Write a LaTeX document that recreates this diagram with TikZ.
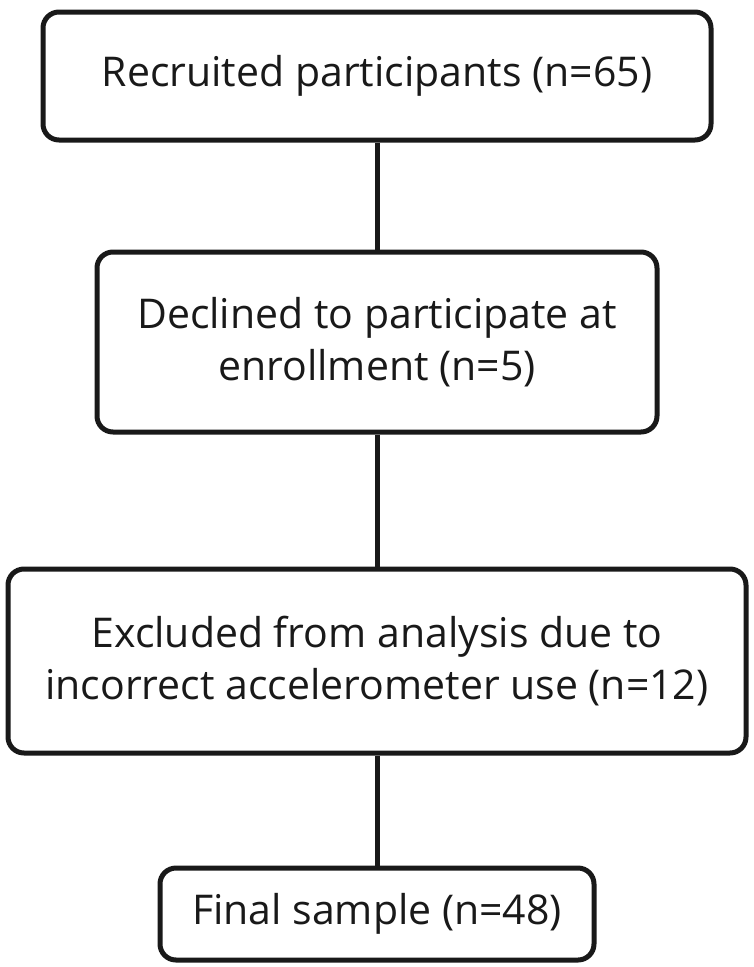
\documentclass[tikz,border=0pt]{standalone}
\usepackage{fontspec}
\setmainfont{Open Sans}
\begin{document}
\begin{tikzpicture}[x=1pt,y=-1pt,
  flowbox/.style={draw=black!90, line width=5pt, rounded corners=16pt, fill=white,
    align=center, inner sep=0pt, font=\fontsize{41}{52}\selectfont, text=black!90},
  conn/.style={draw=black!90, line width=5pt}]
\useasboundingbox (0,0) rectangle (753,967);
\node[flowbox, minimum width=668pt, minimum height=128pt] (b1) at (377,76) {Recruited participants (n=65)};
\node[flowbox, minimum width=560pt, minimum height=180pt] (b2) at (377,342) {Declined to participate at\\enrollment (n=5)};
\node[flowbox, minimum width=738pt, minimum height=184pt] (b3) at (377,661) {Excluded from analysis due to\\incorrect accelerometer use (n=12)};
\node[flowbox, minimum width=434pt, minimum height=92pt] (b4) at (377,914) {Final sample (n=48)};
\draw[conn] (b1.south) -- (b2.north);
\draw[conn] (b2.south) -- (b3.north);
\draw[conn] (b3.south) -- (b4.north);
\end{tikzpicture}
\end{document}
